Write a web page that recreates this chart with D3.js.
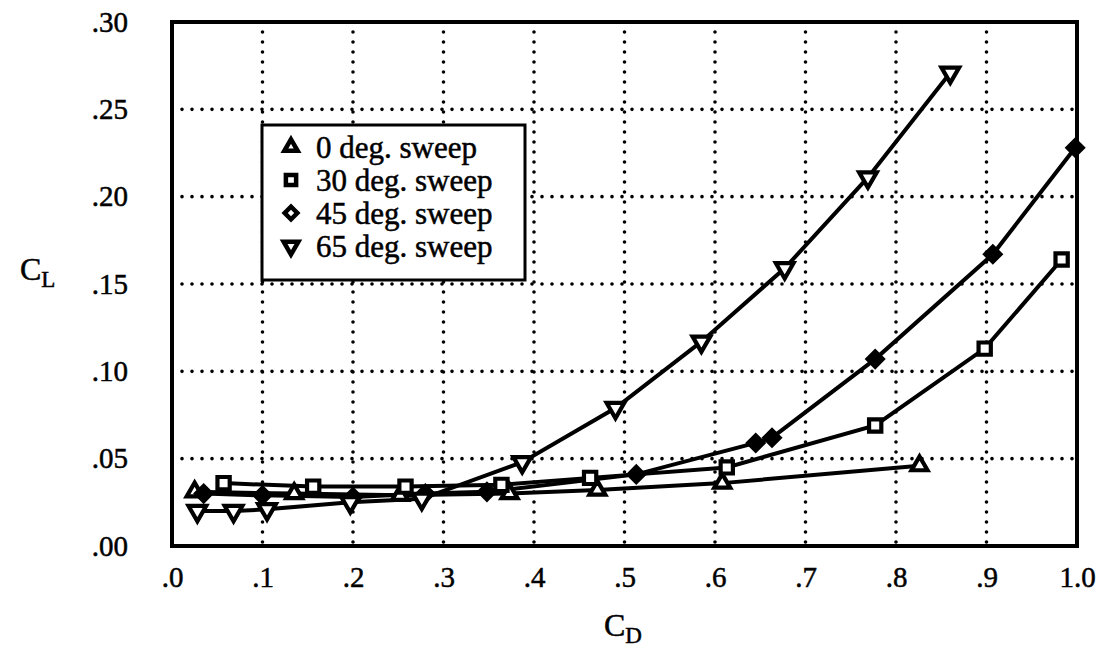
<!DOCTYPE html>
<html>
<head>
<meta charset="utf-8">
<script src="https://cdn.jsdelivr.net/npm/d3@7"></script>
<style>
  body { margin: 0; background: #fff; }
  text { font-family: "Liberation Serif", "DejaVu Serif", serif; fill: #000; stroke: #000; stroke-width: 0.5px; }
</style>
</head>
<body>
<svg id="chart" width="1107" height="665"></svg>
<script>
// C_D, C_L pairs
const sweep0 = [[0.025, 0.031], [0.135, 0.030], [0.252, 0.029], [0.373, 0.030], [0.470, 0.032], [0.608, 0.036], [0.826, 0.046]];
const sweep30 = [[0.057, 0.036], [0.156, 0.034], [0.258, 0.034], [0.364, 0.035], [0.462, 0.039], [0.613, 0.045], [0.777, 0.069], [0.898, 0.113], [0.983, 0.164]];
const sweep45 = [[0.035, 0.030], [0.100, 0.029], [0.200, 0.028], [0.280, 0.030], [0.348, 0.031], [0.513, 0.041], [0.645, 0.059], [0.663, 0.062], [0.777, 0.107], [0.907, 0.167], [0.998, 0.228]];
const sweep65 = [[0.028, 0.020], [0.068, 0.020], [0.105, 0.021], [0.197, 0.025], [0.276, 0.027], [0.387, 0.048], [0.490, 0.079], [0.585, 0.117], [0.677, 0.159], [0.769, 0.211], [0.860, 0.271]];

const seriesNames = ["0 deg. sweep", "30 deg. sweep", "45 deg. sweep", "65 deg. sweep"];
const xTicks = [0, 0.1, 0.2, 0.3, 0.4, 0.5, 0.6, 0.7, 0.8, 0.9, 1.0];
const xTickLabels = [".0", ".1", ".2", ".3", ".4", ".5", ".6", ".7", ".8", ".9", "1.0"];
const yTicks = [0, 0.05, 0.10, 0.15, 0.20, 0.25, 0.30];
const yTickLabels = [".00", ".05", ".10", ".15", ".20", ".25", ".30"];

const margin = { top: 22, left: 172 };
const width = 905;
const height = 524;

const svg = d3.select("#chart");
const g = svg.append("g").attr("transform", `translate(${margin.left},${margin.top})`);

const x = d3.scaleLinear().domain([0, 1]).range([0, width]);
const y = d3.scaleLinear().domain([0, 0.3]).range([height, 0]);

// dotted grid
g.selectAll(".vgrid")
    .data(xTicks.slice(1, -1))
    .join("line")
    .attr("x1", d => x(d)).attr("x2", d => x(d))
    .attr("y1", 0).attr("y2", height)
    .attr("stroke", "#000")
    .attr("stroke-width", 3.6)
    .attr("stroke-linecap", "round")
    .attr("stroke-dasharray", "0 10");

g.selectAll(".hgrid")
    .data(yTicks.slice(1, -1))
    .join("line")
    .attr("x1", 0).attr("x2", width)
    .attr("y1", d => y(d)).attr("y2", d => y(d))
    .attr("stroke", "#000")
    .attr("stroke-width", 3.6)
    .attr("stroke-linecap", "round")
    .attr("stroke-dasharray", "0 10");

// axes as text labels (frame drawn separately)
const xAxis = d3.axisBottom(x).tickValues(xTicks)
    .tickFormat((d, i) => xTickLabels[i]).tickSize(0).tickPadding(20);
const xg = g.append("g").attr("transform", `translate(0,${height})`).call(xAxis);
xg.select(".domain").remove();
xg.selectAll("text").attr("font-size", 29).attr("font-family", "Liberation Serif");

const yAxis = d3.axisLeft(y).tickValues(yTicks)
    .tickFormat((d, i) => yTickLabels[i]).tickSize(0).tickPadding(44);
const yg = g.append("g").call(yAxis);
yg.select(".domain").remove();
yg.selectAll("text").attr("font-size", 29).attr("font-family", "Liberation Serif");

// series lines
const line = d3.line().x(d => x(d[0])).y(d => y(d[1]));
const allSeries = [sweep0, sweep30, sweep45, sweep65];
const shapes = [
    { type: d3.symbolTriangle, size: 110, rot: 0 },
    { type: d3.symbolSquare, size: 150, rot: 0 },
    { type: d3.symbolSquare, size: 115, rot: 45 },
    { type: d3.symbolTriangle, size: 135, rot: 180 }
];

allSeries.forEach(data => {
    g.append("path")
        .datum(data)
        .attr("d", line)
        .attr("fill", "none")
        .attr("stroke", "#000")
        .attr("stroke-width", 4);
});

allSeries.forEach((data, i) => {
    const s = shapes[i];
    g.selectAll(".m" + i)
        .data(data)
        .join("path")
        .attr("d", d3.symbol().type(s.type).size(s.size))
        .attr("transform", d => `translate(${x(d[0])},${y(d[1])}) rotate(${s.rot})`)
        .attr("fill", i === 2 ? "#000" : "#fff")
        .attr("stroke", "#000")
        .attr("stroke-width", 4.2);
});

// frame
g.append("rect")
    .attr("width", width).attr("height", height)
    .attr("fill", "none")
    .attr("stroke", "#000")
    .attr("stroke-width", 4);

// legend
const legend = svg.append("g").attr("transform", "translate(262,125)");
legend.append("rect")
    .attr("width", 263).attr("height", 155)
    .attr("fill", "#fff")
    .attr("stroke", "#000")
    .attr("stroke-width", 3);

seriesNames.forEach((name, i) => {
    const s = shapes[i];
    const cy = 22 + i * 33;
    legend.append("path")
        .attr("d", d3.symbol().type(s.type).size(s.size * 0.7))
        .attr("transform", `translate(29,${cy}) rotate(${s.rot})`)
        .attr("fill", "#fff")
        .attr("stroke", "#000")
        .attr("stroke-width", 4.5);
    legend.append("text")
        .attr("x", 54).attr("y", cy)
        .attr("dy", "0.35em")
        .attr("font-size", 31)
        .text(name);
});

// axis titles
const cl = svg.append("text").attr("x", 20).attr("y", 280).attr("font-size", 32);
cl.append("tspan").text("C");
cl.append("tspan").attr("font-size", 23).attr("dy", 7).text("L");

const cd = svg.append("text").attr("x", 604).attr("y", 636).attr("font-size", 32);
cd.append("tspan").text("C");
cd.append("tspan").attr("font-size", 23).attr("dy", 7).text("D");
</script>
</body>
</html>
